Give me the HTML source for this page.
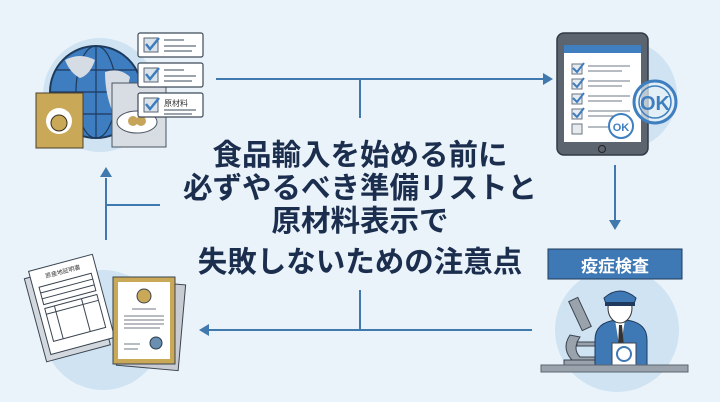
<!DOCTYPE html>
<html><head><meta charset="utf-8"><style>
html,body{margin:0;padding:0;background:#eaf3fa;}
.t{position:absolute;left:0;width:720px;text-align:center;font-family:"Liberation Sans","Noto Sans CJK JP",sans-serif;font-weight:bold;font-size:29.5px;color:#1c2e4e;line-height:1;}
</style></head><body>
<div style="position:relative;width:720px;height:402px;overflow:hidden">
<svg width="720" height="402" style="position:absolute;left:0;top:0">
<g stroke="#3f79ad" stroke-width="2" fill="none">
<path d="M216 79H545 M360 79V118 M615 165V222 M532 330H207 M360 290V330 M106 240V178 M106 205H160"/>
</g>
<g fill="#3f79ad">
<path d="M553 79l-10-6v12z"/><path d="M615 230l-6-10h12z"/><path d="M199 330l10-6v12z"/><path d="M106 167l-6 10h12z"/>
</g>
<!-- top-left -->
<circle cx="100" cy="95" r="57" fill="#cfe3f2"/>
<circle cx="96" cy="92" r="46" fill="#3d7dc0" stroke="#1e3a5c" stroke-width="2"/>
<g stroke="#1e3a5c" stroke-width="1.2" fill="none"><ellipse cx="96" cy="92" rx="20" ry="46"/><path d="M96 46V138 M50 92H142 M56 70H136 M56 114H136"/></g>
<path d="M65 60q15-8 30 0q-5 15-15 18q-10-5-15-18z M105 72q15-5 25 5q-5 25-15 40q-10-20-10-45z" fill="#d5dce3"/>
<rect x="112" y="83" width="54" height="64" fill="#d7dde3" stroke="#4a5562"/>
<ellipse cx="137" cy="122" rx="20" ry="11" fill="#fff" stroke="#4a5562"/>
<circle cx="133" cy="121" r="5" fill="#c6a45a"/><circle cx="141" cy="121" r="5" fill="#c6a45a"/>
<rect x="36" y="93" width="47" height="55" fill="#c9a857" stroke="#4a4030"/>
<circle cx="59" cy="121" r="13" fill="#fff"/><circle cx="59" cy="123" r="8" fill="#c9a857" stroke="#3a3020"/>
<g fill="#fff" stroke="#3d4a5a" stroke-width="1.2">
<rect x="138" y="33" width="65" height="24" rx="2"/><rect x="138" y="63" width="65" height="24" rx="2"/><rect x="138" y="93" width="65" height="24" rx="2"/></g>
<g fill="#dbe3ea" stroke="#5a6572"><rect x="144" y="38" width="14" height="14"/><rect x="144" y="68" width="14" height="14"/><rect x="144" y="98" width="14" height="14"/></g>
<g stroke="#3d7dc0" stroke-width="2.5" fill="none"><path d="M146 44l4 5 9-11M146 74l4 5 9-11M146 104l4 5 9-11"/></g>
<g stroke="#7a8591" stroke-width="1.5"><path d="M164 40h20M164 46h32M164 51h28M164 70h20M164 76h32M164 81h28M164 110h32M164 114h28"/></g>
<text x="164" y="106" font-size="8" font-family="Liberation Sans,Noto Sans CJK JP,sans-serif" fill="#333">原材料</text>
<!-- top-right -->
<circle cx="622" cy="95" r="55" fill="#cfe3f2"/>
<rect x="557" y="33" width="91" height="122" rx="7" fill="#5c6470" stroke="#333a44" stroke-width="1.5"/>
<rect x="564" y="45" width="77" height="97" fill="#fff"/>
<rect x="564" y="45" width="77" height="8" fill="#3f7fc0"/>
<circle cx="602" cy="149" r="3.5" fill="none" stroke="#222" />
<g fill="#e6ebf0" stroke="#6a7480"><rect x="572" y="64" width="10" height="10"/><rect x="572" y="79" width="10" height="10"/><rect x="572" y="94" width="10" height="10"/><rect x="572" y="109" width="10" height="10"/><rect x="572" y="124" width="10" height="10"/></g>
<g stroke="#3d7dc0" stroke-width="2" fill="none"><path d="M573 68l4 4 7-9M573 83l4 4 7-9M573 98l4 4 7-9M573 113l4 4 7-9"/></g>
<g stroke="#8a939c" stroke-width="1.3"><path d="M588 66h42M588 71h34M588 81h42M588 86h34M588 96h42M588 101h34M588 111h42M588 116h30M588 127h20"/></g>
<circle cx="655" cy="102" r="21" fill="#eaf3fa" fill-opacity="0.7" stroke="#3f7fc0" stroke-width="3"/>
<circle cx="655" cy="102" r="16" fill="none" stroke="#3f7fc0" stroke-width="1.5"/>
<text x="655" y="110" font-size="20" font-weight="bold" text-anchor="middle" fill="#3f7fc0" font-family="Liberation Sans,sans-serif">OK</text>
<circle cx="621" cy="126" r="12" fill="#fff" stroke="#3f7fc0" stroke-width="2"/>
<text x="621" y="131" font-size="11" font-weight="bold" text-anchor="middle" fill="#3f7fc0" font-family="Liberation Sans,sans-serif">OK</text>
<!-- bottom-left -->
<circle cx="103" cy="330" r="60" fill="#cfe3f2"/>
<g transform="rotate(-15 70 310)">
<rect x="34" y="268" width="66" height="86" fill="#d2d8de" stroke="#3a4450"/>
<rect x="40" y="262" width="66" height="86" fill="#fff" stroke="#3a4450"/>
<g stroke="#3a4450" fill="none" stroke-width="1"><rect x="46" y="280" width="54" height="18"/><rect x="46" y="302" width="54" height="34"/><path d="M46 286h54M46 292h54M46 308h54M56 302v34M84 302v34"/></g>
<text x="73" y="273" font-size="6" text-anchor="middle" fill="#333" font-family="Noto Sans CJK JP,sans-serif">原産地証明書</text>
</g>
<rect x="120" y="282" width="62" height="86" fill="#c8ccd2" stroke="#3a4450" transform="rotate(5 150 325)"/>
<rect x="113" y="277" width="62" height="87" fill="#c9a857" stroke="#3a4450"/>
<rect x="118" y="282" width="52" height="77" fill="#fff"/>
<circle cx="144" cy="296" r="7" fill="#c9a857" stroke="#3a4450"/>
<g stroke="#8a939c" stroke-width="1.2"><path d="M132 309h24M124 316h40M124 320h40M124 324h40M124 328h36M124 344h16M124 349h14"/></g>
<circle cx="156" cy="343" r="6" fill="#6a8fb0" stroke="#2a3a4a"/>
<!-- bottom-right -->
<circle cx="617" cy="330" r="62" fill="#cfe3f2"/>
<rect x="548" y="249" width="134" height="30" fill="#3f79b5" stroke="#1f3a5c"/>
<text x="615" y="272" font-size="17" font-weight="bold" text-anchor="middle" fill="#fff" font-family="Liberation Sans,Noto Sans CJK JP,sans-serif">疫症検査</text>
<g fill="#9aa2ab" stroke="#3a4450">
<path d="M570 335q-10 15 5 28h20v-6h-15q-8-8 0-20z"/>
<rect x="575" y="298" width="10" height="32" transform="rotate(-25 580 314)"/>
<rect x="577" y="342" width="28" height="4"/>
<rect x="564" y="360" width="40" height="6"/>
</g>
<path d="M595 370v-30q0-18 22-20h8q22 2 22 20v30z" fill="#3f79b5" stroke="#1f3a5c"/>
<path d="M615 320l5 30 5-30z" fill="#fff"/><path d="M619 325h3l2 22-3 4-3-4z" fill="#333"/>
<ellipse cx="620" cy="308" rx="12" ry="15" fill="#fff" stroke="#333"/>
<path d="M604 298q16-14 32 0l-2 6h-28z" fill="#3f79b5" stroke="#1f3a5c"/>
<rect x="605" y="302" width="30" height="4" fill="#1f3a5c"/>
<rect x="612" y="343" width="24" height="22" fill="#fff" stroke="#3a4450"/>
<circle cx="624" cy="354" r="7" fill="none" stroke="#3f79b5" stroke-width="2"/>
<rect x="541" y="365" width="147" height="7" fill="#9aa2ab" stroke="#5a6470"/>
</svg>
<div class="t" style="top:141px">食品輸入を始める前に</div>
<div class="t" style="top:174px">必ずやるべき準備リストと</div>
<div class="t" style="top:207px">原材料表示で</div>
<div class="t" style="top:248px">失敗しないための注意点</div>
</div>
</body></html>
